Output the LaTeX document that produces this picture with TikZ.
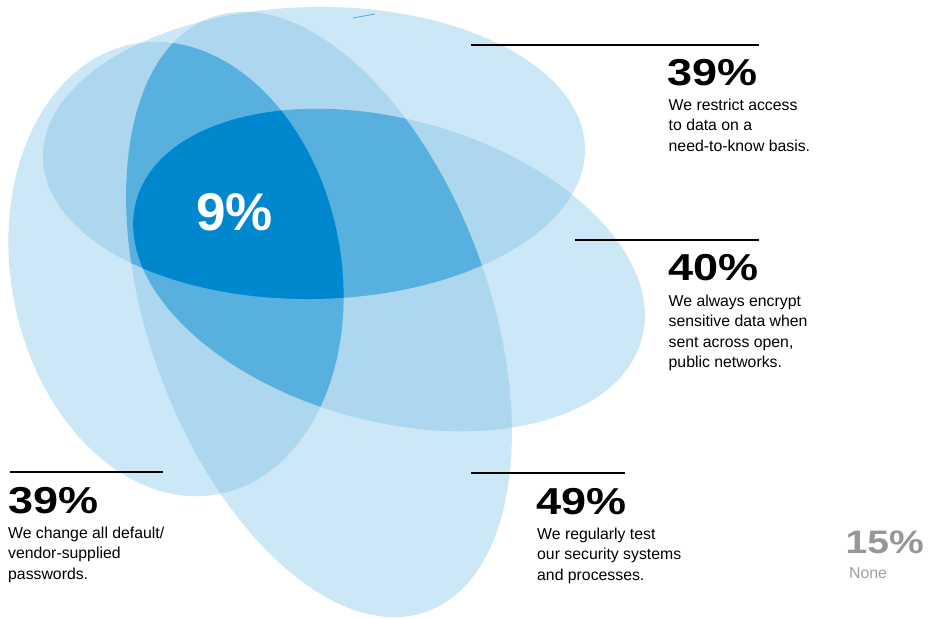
\documentclass[tikz,border=0pt]{standalone}
\usepackage{fontspec}
\setmainfont{Liberation Sans}
\newfontfamily\bignum{Liberation Sans}[FakeStretch=1.2]
\definecolor{cL}{RGB}{204,231,245}
\definecolor{cM}{RGB}{172,215,238}
\definecolor{cD}{RGB}{88,176,222}
\definecolor{cX}{RGB}{0,136,207}
\definecolor{gA}{RGB}{150,150,150}
\definecolor{gB}{RGB}{160,160,160}
\newcommand\ellA[2]{#1[#2,shift={(314,153)},rotate=1] (0,0) ellipse [x radius=271pt, y radius=146pt];}
\newcommand\ellB[2]{#1[#2,shift={(389,270)},rotate=-15.3] (0,0) ellipse [x radius=262pt, y radius=151pt];}
\newcommand\ellC[2]{#1[#2,shift={(319,314.5)},rotate=20] (0,0) ellipse [x radius=170pt, y radius=316pt];}
\newcommand\ellD[2]{#1[#2,shift={(176,269)},rotate=10.65] (0,0) ellipse [x radius=165pt, y radius=229pt];}
\tikzset{
  bignumber/.style={font=\bignum\bfseries\fontsize{37.5}{40}\selectfont, inner sep=0pt, anchor=base west, text=black},
  bodytext/.style={font=\fontsize{15.8}{20.6}\selectfont, inner sep=0pt, anchor=base west, align=left, text=black},
  rule/.style={line width=2pt, black}
}
\begin{document}
\begin{tikzpicture}[x=1pt,y=-1pt]
\fill[white] (0,0) rectangle (947,618);
\useasboundingbox (0,0) rectangle (947,618);
% single layers
\ellA{\fill}{cL}
\ellB{\fill}{cL}
\ellC{\fill}{cL}
\ellD{\fill}{cL}
% pairs
\begin{scope}\ellA{\clip}{}\ellB{\fill}{cM}\end{scope}
\begin{scope}\ellA{\clip}{}\ellC{\fill}{cM}\end{scope}
\begin{scope}\ellA{\clip}{}\ellD{\fill}{cM}\end{scope}
\begin{scope}\ellB{\clip}{}\ellC{\fill}{cM}\end{scope}
\begin{scope}\ellB{\clip}{}\ellD{\fill}{cM}\end{scope}
\begin{scope}\ellC{\clip}{}\ellD{\fill}{cM}\end{scope}
% triples
\begin{scope}\ellA{\clip}{}\ellB{\clip}{}\ellC{\fill}{cD}\end{scope}
\begin{scope}\ellA{\clip}{}\ellB{\clip}{}\ellD{\fill}{cD}\end{scope}
\begin{scope}\ellA{\clip}{}\ellC{\clip}{}\ellD{\fill}{cD}\end{scope}
\begin{scope}\ellB{\clip}{}\ellC{\clip}{}\ellD{\fill}{cD}\end{scope}
% all four
\begin{scope}\ellA{\clip}{}\ellB{\clip}{}\ellC{\clip}{}\ellD{\fill}{cX}\end{scope}
% stray mark
\draw[cD, line width=0.9pt] (353,18) -- (375,14);

\node[font=\bfseries\fontsize{53}{56}\selectfont, text=white, inner sep=0pt, anchor=base west] (nine) at (196,230) {9\%};

% top right: restrict access
\coordinate (r1a) at (471,45); \coordinate (r1b) at (759,45);
\draw[rule] (r1a) -- (r1b);
\node[bignumber] (n1) at (667.5,85) {39\%};
\node[bodytext] (t1) at (668.5,151.2) {We restrict access\\to data on a\\need-to-know basis.};

% encrypt
\coordinate (r2a) at (575,240); \coordinate (r2b) at (759,240);
\draw[rule] (r2a) -- (r2b);
\node[bignumber] (n2) at (668,280) {40\%};
\node[bodytext] (t2) at (668.5,367.8) {We always encrypt\\sensitive data when\\sent across open,\\public networks.};

% passwords
\coordinate (r3a) at (10,471.5); \coordinate (r3b) at (163,471.5);
\draw[rule] (r3a) -- (r3b);
\node[bignumber] (n3) at (8,513) {39\%};
\node[bodytext] (t3) at (8,579.2) {We change all default/\\vendor-supplied\\passwords.};

% test
\coordinate (r4a) at (471,473); \coordinate (r4b) at (625,473);
\draw[rule] (r4a) -- (r4b);
\node[bignumber] (n4) at (536,514) {49\%};
\node[bodytext] (t4) at (537,580.2) {We regularly test\\our security systems\\and processes.};

% none
\node[bignumber, text=gA, font=\bignum\bfseries\fontsize{32.5}{34}\selectfont] (n5) at (845.5,553) {15\%};
\node[bodytext, text=gB] (t5) at (849,578) {None};
\end{tikzpicture}
\end{document}
